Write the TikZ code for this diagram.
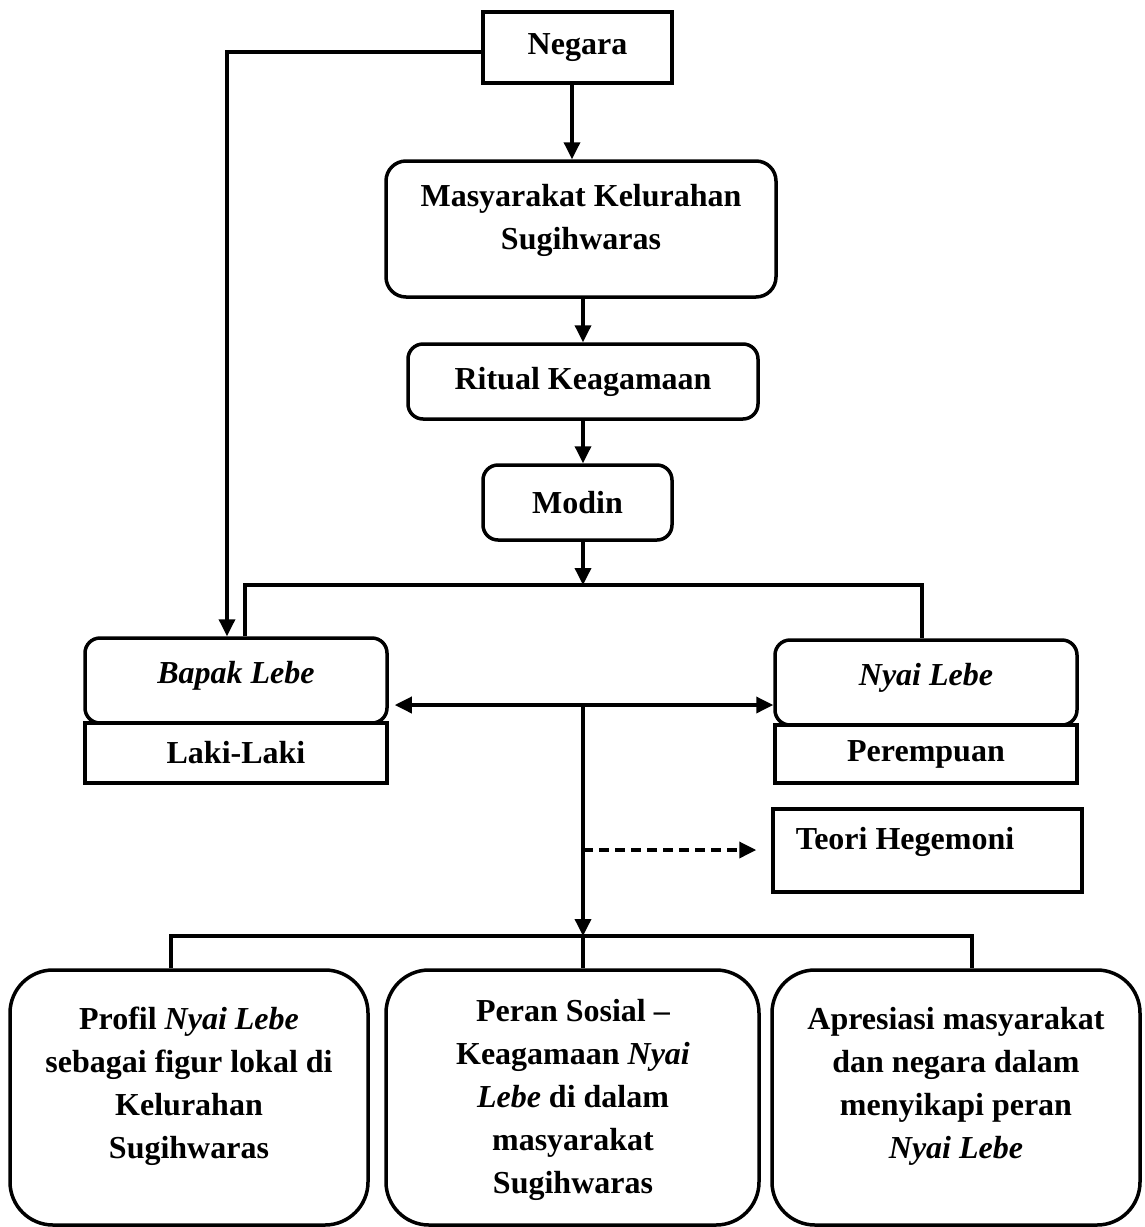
\documentclass[tikz,border=0pt]{standalone}
\usepackage{fontspec}
\setmainfont{Liberation Serif}
\usetikzlibrary{arrows.meta,calc}
\begin{document}
\begin{tikzpicture}[x=1pt,y=-1pt,
  every node/.style={font=\fontsize{32}{43}\selectfont\bfseries, text=black},
  bx/.style={draw=black, line width=3.5pt, rectangle, inner sep=0pt, align=center},
  rbx/.style={bx, rounded corners=15pt},
  bigbx/.style={bx, rounded corners=43pt},
  txt/.style={align=center, inner sep=0pt},
  ln/.style={line width=3.5pt, draw=black},
  arr/.style={ln, -{Triangle[width=16pt,length=17pt]}},
  darr/.style={ln, {Triangle[width=16pt,length=17pt]}-{Triangle[width=16pt,length=17pt]}},
  dsh/.style={ln, dash pattern=on 10pt off 6pt, -{Triangle[width=16pt,length=17pt]}}
]
\useasboundingbox (0,0) rectangle (1144,1227);

% boxes
\node[bx, minimum width=189pt, minimum height=71pt] (neg) at (577.5,47.5) {Negara};
\node[bx, rounded corners=20pt, minimum width=390pt, minimum height=136pt] (mas) at (581,229) {};
\node[txt] (mastxt) at (581,220) {Masyarakat Kelurahan\\Sugihwaras};
\node[rbx, minimum width=350pt, minimum height=75pt] (rit) at (583,381.5) {Ritual Keagamaan};
\node[rbx, minimum width=189pt, minimum height=75pt] (mod) at (577.5,502.5) {Modin};

\node[rbx, minimum width=302pt, minimum height=85pt] (bap) at (236,680.5) {};
\node[txt] (baptxt) at (236,676) {\itshape Bapak Lebe};
\node[bx, minimum width=302pt, minimum height=60pt] (lak) at (236,753) {Laki-Laki};

\node[rbx, minimum width=302pt, minimum height=85pt] (nya) at (926,682.5) {};
\node[txt] (nyatxt) at (926,678) {\itshape Nyai Lebe};
\node[bx, minimum width=302pt, minimum height=58pt] (per) at (926,754) {Perempuan};

\node[bx, minimum width=309pt, minimum height=83pt] (teo) at (927.5,850.5) {};
\node[txt] (teotxt) at (905,842) {Teori Hegemoni};

\node[bigbx, minimum width=358pt, minimum height=255pt] (pL) at (189,1097.5) {};
\node[txt] (pLtxt) at (189,1086) {Profil \textit{Nyai Lebe}\\sebagai figur lokal di\\Kelurahan\\Sugihwaras};
\node[bigbx, minimum width=373pt, minimum height=255pt] (pM) at (572.5,1097.5) {};
\node[txt] (pMtxt) at (573,1100) {Peran Sosial –\\Keagamaan \textit{Nyai}\\\textit{Lebe} di dalam\\masyarakat\\Sugihwaras};
\node[bigbx, minimum width=368pt, minimum height=255pt] (pR) at (956,1097.5) {};
\node[txt] (pRtxt) at (956,1086) {Apresiasi masyarakat\\dan negara dalam\\menyikapi peran\\\textit{Nyai Lebe}};

% junction coordinates
\coordinate (nl) at (227,52);
\coordinate (na) at (572,0);
\coordinate (jt) at (583,585);
\coordinate (jl) at (245,585);
\coordinate (jr) at (922,585);
\coordinate (dm) at (583,705);
\coordinate (dd) at (583,850);
\coordinate (jb) at (583,936);
\coordinate (bl) at (171,936);
\coordinate (br) at (972,936);

% connectors
\draw[arr] (neg.west |- nl) -- (nl) -- (bap.north -| nl);
\draw[arr] (neg.south -| na) -- (mas.north -| na);
\draw[arr] (mas.south -| rit.north) -- (rit.north);
\draw[arr] (rit.south) -- (mod.north -| rit.south);
\draw[arr] (mod.south -| jt) -- (jt);
\draw[ln] (bap.north -| jl) -- (jl) -- (jr) -- (nya.north -| jr);
\draw[darr] ($(bap.east |- dm)+(6,0)$) -- (nya.west |- dm);
\draw[arr] (dm) -- (jb);
\draw[dsh] (dd) -- ($(teo.west |- dd)+(-15,0)$);
\draw[ln] (pL.north -| bl) -- (bl) -- (br) -- (pR.north -| br);
\draw[ln] (jb) -- (pM.north -| jb);
\end{tikzpicture}
\end{document}
